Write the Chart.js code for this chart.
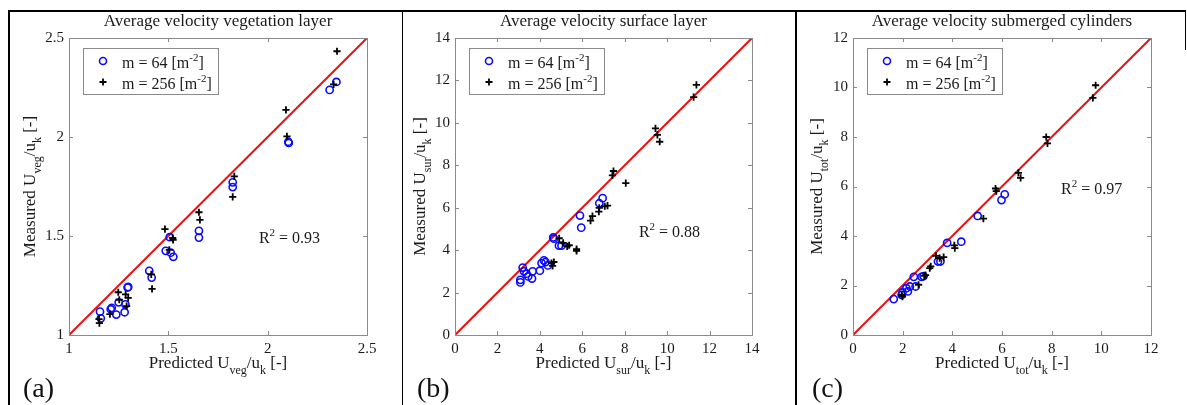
<!DOCTYPE html>
<html>
<head>
<meta charset="utf-8">
<script src="https://cdn.jsdelivr.net/npm/chart.js@4.4.1/dist/chart.umd.min.js"></script>
<style>
  html, body { margin: 0; padding: 0; background: #fff; }
  #fig { position: relative; width: 1187px; height: 405px; overflow: hidden; font-family: "Liberation Serif", serif; }
  #fig canvas { position: absolute; left: 0; top: 0; }
  .rule { position: absolute; background: #000; }
  .tag { position: absolute; top: 374px; font-size: 28px; line-height: 1; color: #111; }
</style>
</head>
<body>
<div id="fig">
  <canvas id="chartA" width="1187" height="405"></canvas>
  <canvas id="chartB" width="1187" height="405"></canvas>
  <canvas id="chartC" width="1187" height="405"></canvas>
  <div class="rule" style="left:8px;top:10px;width:1178px;height:2px"></div>
  <div class="rule" style="left:8px;top:10px;width:2px;height:395px"></div>
  <div class="rule" style="left:402px;top:10px;width:1px;height:395px"></div>
  <div class="rule" style="left:795px;top:10px;width:2px;height:395px"></div>
  <div class="rule" style="left:1185px;top:10px;width:1px;height:40px"></div>
  <div class="tag" style="left:23px">(a)</div>
  <div class="tag" style="left:417px">(b)</div>
  <div class="tag" style="left:812px">(c)</div>
</div>
<script>
// tick values
const vegTicks = [1, 1.5, 2, 2.5];
const surTicks = [0, 2, 4, 6, 8, 10, 12, 14];
const totTicks = [0, 2, 4, 6, 8, 10, 12];

// 1:1 lines
const vegLine = [1, 2.5];
const surLine = [0, 14];
const totLine = [0, 12];

// (a) vegetation layer
const vegPred64 = [1.156, 1.160, 1.210, 1.215, 1.238, 1.250, 1.280, 1.284, 1.295, 1.298, 1.404, 1.416, 1.487, 1.507, 1.512, 1.525, 1.654, 1.654, 1.824, 1.824, 2.104, 2.106, 2.312, 2.346];
const vegMeas64 = [1.118, 1.084, 1.130, 1.137, 1.103, 1.165, 1.115, 1.155, 1.240, 1.243, 1.324, 1.290, 1.425, 1.494, 1.416, 1.395, 1.526, 1.492, 1.771, 1.747, 1.976, 1.970, 2.238, 2.278];
const vegPred256 = [1.151, 1.153, 1.206, 1.248, 1.253, 1.285, 1.298, 1.290, 1.414, 1.418, 1.483, 1.505, 1.522, 1.524, 1.654, 1.659, 1.832, 1.824, 2.092, 2.097, 2.332, 2.349];
const vegMeas256 = [1.080, 1.060, 1.105, 1.216, 1.178, 1.205, 1.187, 1.146, 1.306, 1.233, 1.535, 1.430, 1.490, 1.480, 1.620, 1.581, 1.801, 1.698, 2.137, 2.003, 2.266, 2.433];

// (b) surface layer
const surPred64 = [3.08, 3.08, 3.19, 3.25, 3.37, 3.45, 3.63, 3.66, 4.00, 4.08, 4.19, 4.27, 4.38, 4.63, 4.66, 4.90, 5.02, 5.89, 5.95, 6.80, 6.96];
const surMeas64 = [2.60, 2.48, 3.18, 3.00, 2.89, 2.76, 2.66, 3.00, 3.03, 3.39, 3.52, 3.44, 3.28, 4.60, 4.54, 4.21, 4.21, 5.63, 5.06, 6.21, 6.45];
const surPred256 = [4.55, 4.60, 4.66, 4.91, 5.10, 5.29, 5.38, 5.73, 5.73, 6.39, 6.48, 6.78, 6.80, 7.06, 7.19, 7.42, 7.47, 8.05, 9.45, 9.54, 9.65, 11.25, 11.38];
const surMeas256 = [3.39, 3.26, 3.44, 4.56, 4.34, 4.18, 4.23, 4.05, 3.97, 5.39, 5.60, 5.82, 5.99, 6.07, 6.10, 7.52, 7.73, 7.16, 9.74, 9.43, 9.11, 11.21, 11.79];

// (c) submerged cylinders
const totPred64 = [1.64, 1.96, 1.99, 2.15, 2.21, 2.29, 2.45, 2.52, 2.76, 2.84, 3.42, 3.52, 3.79, 4.36, 5.02, 5.98, 6.11];
const totMeas64 = [1.45, 1.62, 1.72, 1.89, 1.76, 1.96, 2.35, 1.96, 2.35, 2.38, 2.97, 2.97, 3.72, 3.77, 4.81, 5.45, 5.68];
const totPred256 = [1.96, 1.99, 2.64, 2.87, 2.92, 3.09, 3.13, 3.34, 3.49, 3.65, 4.08, 4.10, 5.25, 5.74, 5.77, 6.66, 6.75, 7.78, 7.83, 9.66, 9.77];
const totMeas256 = [1.62, 1.55, 2.03, 2.39, 2.42, 2.70, 2.77, 3.20, 3.11, 3.15, 3.62, 3.51, 4.70, 5.92, 5.81, 6.55, 6.35, 8.00, 7.74, 9.58, 10.09];

const SERIF = "'Liberation Serif', 'Times New Roman', serif";
const TEXT = "#1a1a1a";
const BOX = "#8a8a8a";
const BLUE = "#0a0aff";
const W = 1187, H = 405;

const pairs = (xs, ys) => xs.map((x, i) => ({ x: x, y: ys[i] }));

// draws text made of pieces, some lowered (sub) or raised (sup)
function drawRich(ctx, parts, x, y, size, align) {
  const small = Math.round(size * 0.7);
  let total = 0;
  parts.forEach((p) => {
    ctx.font = (p.sub || p.sup ? small : size) + "px " + SERIF;
    p.w = ctx.measureText(p.t).width;
    total += p.w;
  });
  let cx = align === "center" ? x - total / 2 : x;
  ctx.textAlign = "left";
  ctx.textBaseline = "alphabetic";
  parts.forEach((p) => {
    ctx.font = (p.sub || p.sup ? small : size) + "px " + SERIF;
    let dy = 0;
    if (p.sub) dy = size * 0.38;
    if (p.sup) dy = -size * 0.42;
    ctx.fillText(p.t, cx, y + dy);
    cx += p.w;
  });
}

function makePanel(id, cfg) {
  const decor = {
    id: "decor",
    afterDraw(chart) {
      const ctx = chart.ctx;
      const a = chart.chartArea;
      const xs = chart.scales.x, ys = chart.scales.y;
      ctx.save();
      ctx.fillStyle = TEXT;

      // axes box + inward ticks on four sides
      ctx.strokeStyle = BOX;
      ctx.lineWidth = 1;
      ctx.strokeRect(a.left + 0.5, a.top + 0.5, a.right - a.left, a.bottom - a.top);
      ctx.beginPath();
      cfg.ticks.forEach((v) => {
        const px = Math.round(xs.getPixelForValue(v)) + 0.5;
        ctx.moveTo(px, a.bottom); ctx.lineTo(px, a.bottom - 4);
        ctx.moveTo(px, a.top); ctx.lineTo(px, a.top + 4);
        const py = Math.round(ys.getPixelForValue(v)) + 0.5;
        ctx.moveTo(a.left, py); ctx.lineTo(a.left + 4, py);
        ctx.moveTo(a.right, py); ctx.lineTo(a.right - 4, py);
      });
      ctx.stroke();

      // title
      ctx.font = "17px " + SERIF;
      ctx.textAlign = "center";
      ctx.textBaseline = "alphabetic";
      ctx.fillText(cfg.title, (a.left + a.right) / 2, a.top - 12);

      // axis labels
      drawRich(ctx, cfg.xLabel, (a.left + a.right) / 2, 368, 17, "center");
      ctx.save();
      ctx.translate(a.left - cfg.yLabelGap, (a.top + a.bottom) / 2);
      ctx.rotate(-Math.PI / 2);
      drawRich(ctx, cfg.yLabel, 0, 0, 17, "center");
      ctx.restore();

      // R^2 note
      const rx = xs.getPixelForValue(cfg.r2[0]);
      const ry = ys.getPixelForValue(cfg.r2[1]);
      drawRich(ctx, [{ t: "R" }, { t: "2", sup: true }, { t: " = " + cfg.r2[2] }], rx, ry + 5, 16, "left");

      // legend
      const lx = a.left + 14, ly = a.top + 10;
      ctx.fillStyle = "#fff";
      ctx.fillRect(lx, ly, 135, 46);
      ctx.strokeStyle = BOX;
      ctx.strokeRect(lx + 0.5, ly + 0.5, 135, 46);
      ctx.strokeStyle = BLUE;
      ctx.lineWidth = 1.6;
      Chart.helpers.drawPoint(ctx, { pointStyle: "circle", radius: 3.5, borderWidth: 1.6 }, lx + 20, ly + 13);
      ctx.strokeStyle = "#000";
      ctx.lineWidth = 1.8;
      Chart.helpers.drawPoint(ctx, { pointStyle: "cross", radius: 3.5, borderWidth: 1.8 }, lx + 20, ly + 34);
      ctx.fillStyle = TEXT;
      drawRich(ctx, [{ t: "m = 64 [m" }, { t: "-2", sup: true }, { t: "]" }], lx + 39, ly + 20, 16, "left");
      drawRich(ctx, [{ t: "m = 256 [m" }, { t: "-2", sup: true }, { t: "]" }], lx + 39, ly + 41, 16, "left");
      ctx.restore();
    },
  };

  const scaleBase = (pos, fitSize) => ({
    type: "linear",
    position: pos,
    min: cfg.line[0],
    max: cfg.line[1],
    afterBuildTicks: (scale) => { scale.ticks = cfg.ticks.map((v) => ({ value: v })); },
    afterFit: (scale) => {
      if (pos === "left") scale.width = fitSize; else scale.height = fitSize;
    },
    grid: { display: false, drawTicks: false },
    border: { display: false },
    ticks: {
      color: TEXT,
      font: { family: SERIF, size: 15 },
      padding: pos === "left" ? 5 : 5,
      maxRotation: 0,
      autoSkip: false,
      callback: (v) => String(v),
    },
  });

  return new Chart(document.getElementById(id), {
    type: "scatter",
    data: {
      datasets: [
        {
          label: "m = 64",
          data: pairs(cfg.p64, cfg.m64),
          pointStyle: "circle",
          pointRadius: 3.6,
          borderWidth: 1.6,
          borderColor: BLUE,
          backgroundColor: "rgba(0,0,0,0)",
          order: 2,
        },
        {
          label: "m = 256",
          data: pairs(cfg.p256, cfg.m256),
          pointStyle: "cross",
          pointRadius: 3.6,
          borderWidth: 1.8,
          borderColor: "#000",
          backgroundColor: "#000",
          order: 1,
        },
        {
          label: "1:1",
          type: "line",
          data: pairs(cfg.line, cfg.line),
          borderColor: "#e41414",
          borderWidth: 2,
          pointRadius: 0,
          fill: false,
          order: 3,
        },
      ],
    },
    options: {
      responsive: false,
      animation: false,
      events: [],
      layout: { padding: { left: 0, top: cfg.area[1], right: W - cfg.area[2], bottom: 0 } },
      plugins: { legend: { display: false }, tooltip: { enabled: false } },
      scales: {
        x: scaleBase("bottom", H - cfg.area[3]),
        y: scaleBase("left", cfg.area[0]),
      },
    },
    plugins: [decor],
  });
}

makePanel("chartA", {
  area: [69, 38, 367, 335],
  ticks: vegTicks, line: vegLine,
  p64: vegPred64, m64: vegMeas64, p256: vegPred256, m256: vegMeas256,
  title: "Average velocity vegetation layer",
  xLabel: [{ t: "Predicted U" }, { t: "veg", sub: true }, { t: "/u" }, { t: "k", sub: true }, { t: " [-]" }],
  yLabel: [{ t: "Measured U" }, { t: "veg", sub: true }, { t: "/u" }, { t: "k", sub: true }, { t: " [-]" }],
  yLabelGap: 34,
  r2: [1.956, 1.49, "0.93"],
});

makePanel("chartB", {
  area: [455, 38, 752, 335],
  ticks: surTicks, line: surLine,
  p64: surPred64, m64: surMeas64, p256: surPred256, m256: surMeas256,
  title: "Average velocity surface layer",
  xLabel: [{ t: "Predicted U" }, { t: "sur", sub: true }, { t: "/u" }, { t: "k", sub: true }, { t: " [-]" }],
  yLabel: [{ t: "Measured U" }, { t: "sur", sub: true }, { t: "/u" }, { t: "k", sub: true }, { t: " [-]" }],
  yLabelGap: 30,
  r2: [8.67, 4.86, "0.88"],
});

makePanel("chartC", {
  area: [853, 38, 1151, 335],
  ticks: totTicks, line: totLine,
  p64: totPred64, m64: totMeas64, p256: totPred256, m256: totMeas256,
  title: "Average velocity submerged cylinders",
  xLabel: [{ t: "Predicted U" }, { t: "tot", sub: true }, { t: "/u" }, { t: "k", sub: true }, { t: " [-]" }],
  yLabel: [{ t: "Measured U" }, { t: "tot", sub: true }, { t: "/u" }, { t: "k", sub: true }, { t: " [-]" }],
  yLabelGap: 31,
  r2: [8.38, 5.9, "0.97"],
});
</script>
</body>
</html>
